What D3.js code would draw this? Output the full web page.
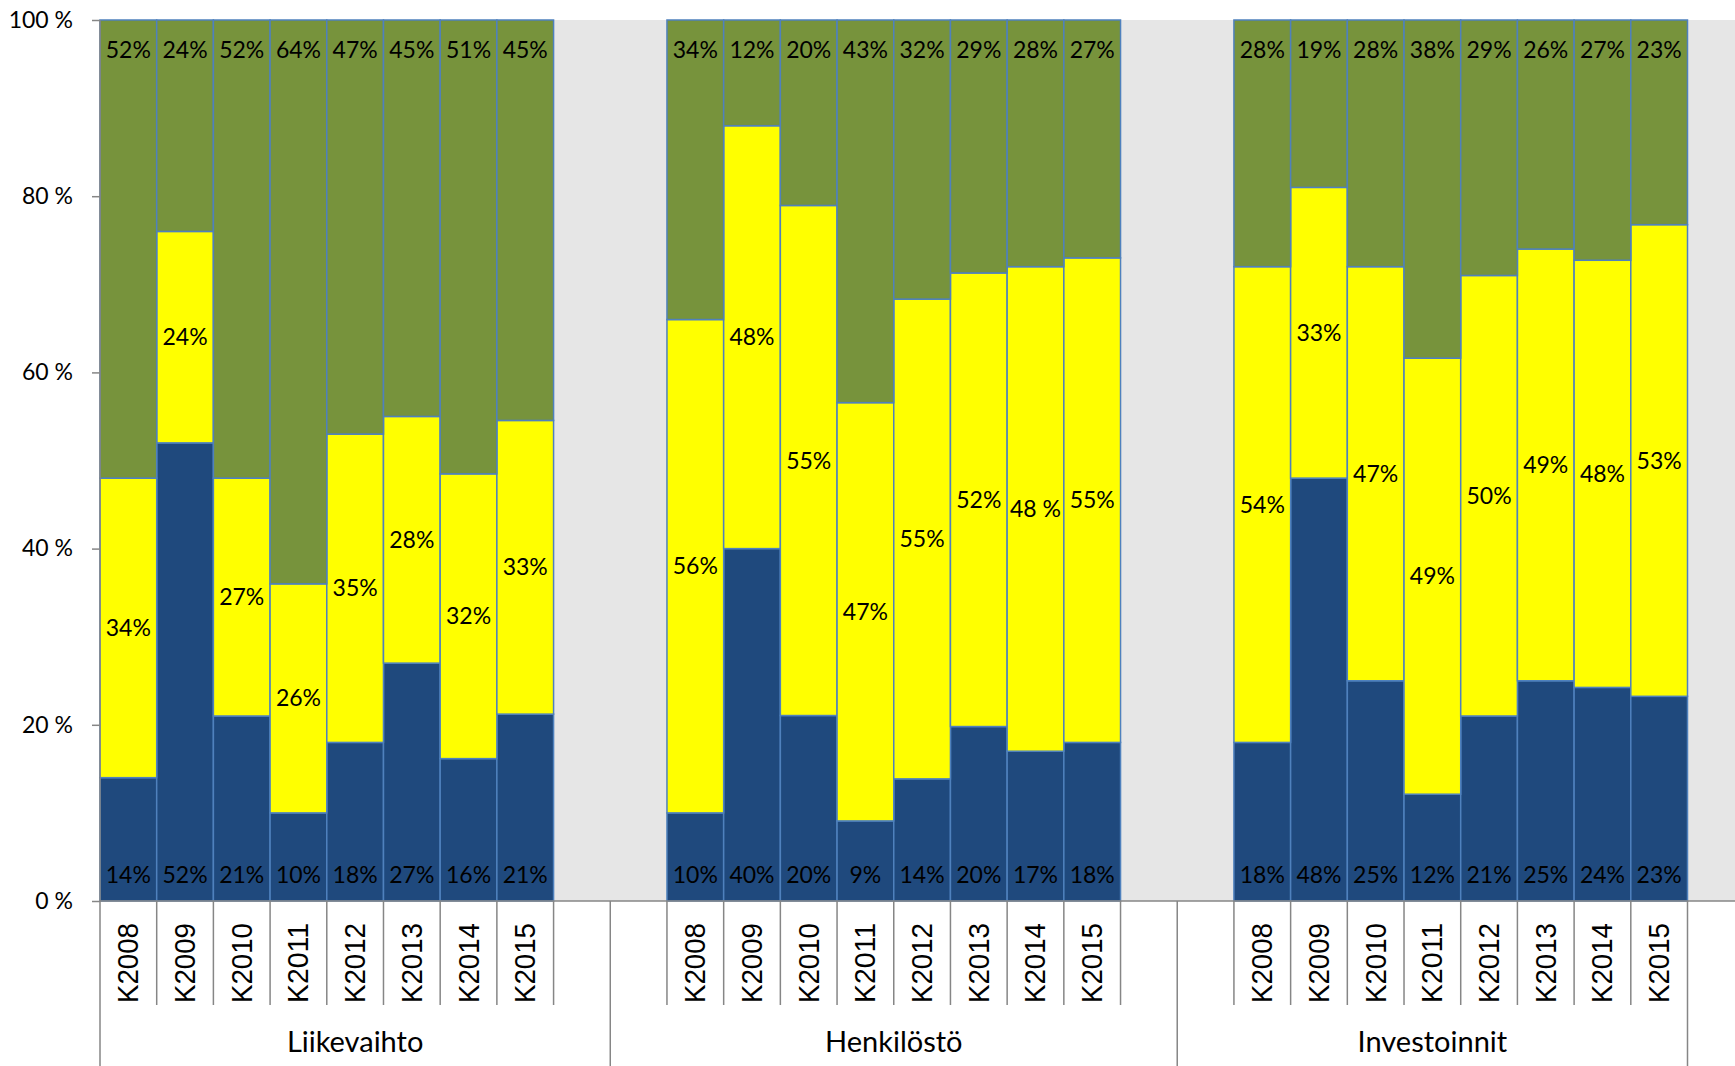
<!DOCTYPE html>
<html>
<head>
<meta charset="utf-8">
<script src="https://cdn.jsdelivr.net/npm/d3@7"></script>
<style>
  html, body { margin: 0; padding: 0; background: #fff; }
  svg { display: block; }
</style>
</head>
<body>
<script>
const W = 1735, H = 1066;

// categories
const groups = ['Liikevaihto', 'Henkilöstö', 'Investoinnit'];
const years = ['K2008', 'K2009', 'K2010', 'K2011', 'K2012', 'K2013', 'K2014', 'K2015'];
const yTicks = [0, 0.2, 0.4, 0.6, 0.8, 1];

// series values (%), one array per group and series
const blueLiike = [14, 52, 21, 10, 18, 27, 16, 21];
const yellowLiike = [34, 24, 27, 26, 35, 28, 32, 33];
const greenLiike = [52, 24, 52, 64, 47, 45, 51, 45];

const blueHenk = [10, 40, 20, 9, 14, 20, 17, 18];
const yellowHenk = [56, 48, 55, 47, 55, 52, 55, 55];
const greenHenk = [34, 12, 20, 43, 32, 29, 28, 27];

const blueInv = [18, 48, 25, 12, 21, 25, 24, 23];
const yellowInv = [54, 33, 47, 49, 50, 49, 48, 53];
const greenInv = [28, 19, 28, 38, 29, 26, 27, 23];

// one label in the source was typed by hand
const labelOverrides = [{group: 'Henkilöstö', year: 'K2014', key: 'mid', text: '48 %'}];

const seriesByGroup = {
  'Liikevaihto': [blueLiike, yellowLiike, greenLiike],
  'Henkilöstö': [blueHenk, yellowHenk, greenHenk],
  'Investoinnit': [blueInv, yellowInv, greenInv]
};

const keys = ['bottom', 'mid', 'top'];
const colors = {bottom: '#1F497D', mid: '#FFFF00', top: '#77933C'};

// category slots: blank slots pad the groups like the original sheet
const slots = [];
const groupSpans = [];
groups.forEach((g, gi) => {
  const start = slots.length;
  if (gi > 0) slots.push(g + '|blankA');
  years.forEach(y => slots.push(g + '|' + y));
  if (gi < groups.length - 1) slots.push(g + '|blankB');
  groupSpans.push({group: g, start: start, end: slots.length});
});

const rows = [];
groups.forEach(g => {
  const [b, m, t] = seriesByGroup[g];
  years.forEach((y, i) => {
    rows.push({slot: g + '|' + y, group: g, year: y, bottom: b[i], mid: m[i], top: t[i]});
  });
});

const plotLeft = 100, plotRight = 1687.5, plotTop = 20, plotBottom = 901;

const x = d3.scaleBand().domain(slots).range([plotLeft, plotRight]).padding(0);
const y = d3.scaleLinear().domain([0, 1]).range([plotBottom, plotTop]);
const step = x.step();
const slotEdge = i => plotLeft + i * step;

const stack = d3.stack().keys(keys).offset(d3.stackOffsetExpand);
const stacked = stack(rows);

const svg = d3.select('body').append('svg')
  .attr('width', W)
  .attr('height', H)
  .style('font-family', 'Lato, "Open Sans", sans-serif');

// plot area
svg.append('rect')
  .attr('x', plotLeft).attr('y', plotTop)
  .attr('width', W - plotLeft).attr('height', plotBottom - plotTop)
  .attr('fill', '#E6E6E6');

// bars
const layer = svg.selectAll('g.layer')
  .data(stacked)
  .join('g')
  .attr('class', 'layer')
  .attr('fill', d => colors[d.key]);

layer.selectAll('rect')
  .data(d => d)
  .join('rect')
  .attr('x', d => x(d.data.slot))
  .attr('y', d => y(d[1]))
  .attr('width', x.bandwidth())
  .attr('height', d => y(d[0]) - y(d[1]))
  .attr('stroke', '#4F81BD')
  .attr('stroke-width', 1.5);

// data labels
function labelText(d, key) {
  const o = labelOverrides.find(l => l.group === d.data.group && l.year === d.data.year && l.key === key);
  return o ? o.text : d.data[key] + '%';
}

stacked.forEach(s => {
  svg.append('g')
    .selectAll('text')
    .data(s)
    .join('text')
    .attr('x', d => x(d.data.slot) + x.bandwidth() / 2)
    .attr('y', d => {
      if (s.key === 'bottom') return y(0) - 18;
      if (s.key === 'top') return y(1) + 38;
      return (y(d[0]) + y(d[1])) / 2 + 8;
    })
    .attr('text-anchor', 'middle')
    .attr('font-size', 23)
    .attr('fill', '#000')
    .text(d => labelText(d, s.key));
});

// y axis
const axisColor = '#868686';
const yAxis = d3.axisLeft(y)
  .tickValues(yTicks)
  .tickFormat(d => Math.round(d * 100) + ' %')
  .tickSize(8)
  .tickPadding(19);

const ya = svg.append('g')
  .attr('transform', `translate(${plotLeft},0)`)
  .call(yAxis);
ya.select('.domain').remove();
ya.selectAll('.tick line').attr('stroke', axisColor).attr('stroke-width', 1.5);
ya.selectAll('.tick text')
  .attr('font-family', 'Lato, sans-serif')
  .attr('font-size', 23)
  .attr('fill', '#000');

svg.append('line')
  .attr('x1', plotLeft).attr('x2', plotLeft)
  .attr('y1', plotTop).attr('y2', H)
  .attr('stroke', axisColor).attr('stroke-width', 1.5);

// x axis line
svg.append('line')
  .attr('x1', plotLeft).attr('x2', W)
  .attr('y1', plotBottom).attr('y2', plotBottom)
  .attr('stroke', axisColor).attr('stroke-width', 1.5);

// category ticks
const groupEdges = groupSpans.map(s => s.start).concat([slots.length]);
d3.range(1, slots.length + 1).forEach(i => {
  const long = groupEdges.includes(i);
  svg.append('line')
    .attr('x1', slotEdge(i)).attr('x2', slotEdge(i))
    .attr('y1', plotBottom).attr('y2', long ? H : 1005)
    .attr('stroke', axisColor).attr('stroke-width', 1.5);
});

// year labels (rotated)
svg.append('g')
  .selectAll('text')
  .data(rows)
  .join('text')
  .attr('transform', d => `translate(${x(d.slot) + x.bandwidth() / 2 + 10},923) rotate(-90)`)
  .attr('text-anchor', 'end')
  .attr('font-family', '"Liberation Sans", Arial, sans-serif')
  .attr('font-size', 29)
  .attr('textLength', 80)
  .attr('lengthAdjust', 'spacingAndGlyphs')
  .attr('fill', '#000')
  .text(d => d.year);

// group labels
svg.append('g')
  .selectAll('text')
  .data(groupSpans)
  .join('text')
  .attr('x', d => (slotEdge(d.start) + slotEdge(d.end)) / 2)
  .attr('y', 1052)
  .attr('text-anchor', 'middle')
  .attr('font-size', 29)
  .attr('fill', '#000')
  .text(d => d.group);
</script>
</body>
</html>
